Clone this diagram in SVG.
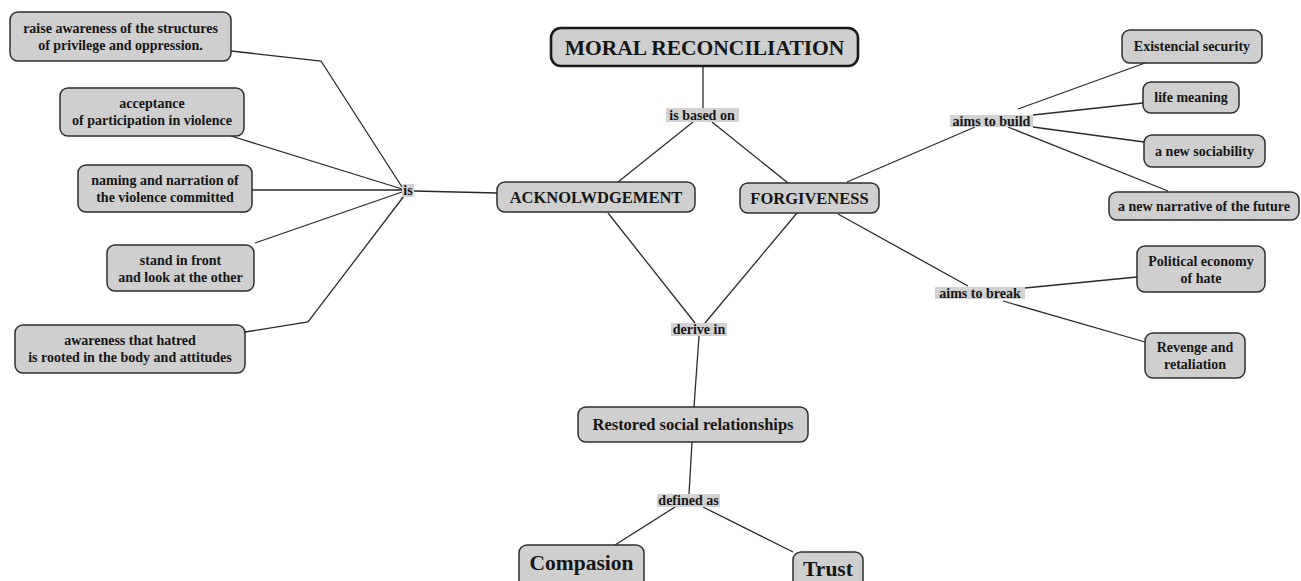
<svg xmlns="http://www.w3.org/2000/svg" width="1301" height="581" viewBox="0 0 1301 581">
  <style>
    .box { fill: #cfcfcf; stroke: #2e2e2e; stroke-width: 1.5; }
    .main { fill: #cfcfcf; stroke: #1a1a1a; stroke-width: 2.6; }
    .lbl { fill: #d2d2d2; }
    text { font-family: "Liberation Serif", "Times New Roman", serif; font-weight: bold; fill: #151515; text-anchor: middle; dominant-baseline: central; }
    .t14 { font-size: 14px; }
    .t16 { font-size: 16.5px; }
    .t21 { font-size: 21.5px; }
    .links path, .links line { fill: none; stroke: #2a2a2a; stroke-width: 1.3; }
  </style>

  <!-- connectors -->
  <g class="links">
    <line x1="703" y1="66" x2="703" y2="108"/>
    <line x1="693" y1="122" x2="618" y2="182"/>
    <line x1="712" y1="122" x2="788" y2="183"/>
    <line x1="414" y1="191" x2="497" y2="193"/>
    <path d="M231 51 L321 61 L402 187"/>
    <line x1="231" y1="136" x2="402" y2="189"/>
    <line x1="252" y1="190" x2="402" y2="190"/>
    <line x1="255" y1="243" x2="402" y2="192"/>
    <path d="M245 332 L308 322 L404 196"/>
    <line x1="608" y1="213" x2="695" y2="323"/>
    <line x1="797" y1="213" x2="705" y2="323"/>
    <line x1="699" y1="336" x2="694" y2="407"/>
    <line x1="692" y1="442" x2="689" y2="494"/>
    <line x1="675" y1="507" x2="615" y2="545"/>
    <line x1="703" y1="507" x2="793" y2="552"/>
    <line x1="847" y1="182" x2="975" y2="127"/>
    <line x1="1018" y1="109" x2="1145" y2="63"/>
    <line x1="1033" y1="115" x2="1143" y2="103"/>
    <line x1="1033" y1="127" x2="1144" y2="142"/>
    <line x1="1008" y1="127" x2="1168" y2="191"/>
    <line x1="838" y1="214" x2="968" y2="286"/>
    <line x1="1025" y1="288" x2="1137" y2="277"/>
    <line x1="1003" y1="301" x2="1145" y2="342"/>
  </g>

  <!-- link labels -->
  <g id="lbl-based">
    <rect class="lbl" x="666" y="108" width="73" height="14"/>
    <text class="t14" x="702" y="115">is based on</text>
  </g>
  <g id="lbl-is">
    <rect class="lbl" x="402" y="184" width="12" height="13"/>
    <text class="t14" x="408" y="190">is</text>
  </g>
  <g id="lbl-derive">
    <rect class="lbl" x="671" y="323" width="56" height="13"/>
    <text class="t14" x="699" y="329.5">derive in</text>
  </g>
  <g id="lbl-defined">
    <rect class="lbl" x="657" y="494" width="63" height="13"/>
    <text class="t14" x="688.5" y="500.5">defined as</text>
  </g>
  <g id="lbl-build">
    <rect class="lbl" x="950" y="115" width="83" height="12"/>
    <text class="t14" x="991.5" y="121">aims to build</text>
  </g>
  <g id="lbl-break">
    <rect class="lbl" x="935" y="287" width="90" height="12"/>
    <text class="t14" x="980" y="293">aims to break</text>
  </g>

  <!-- central concept -->
  <g id="moral-reconciliation">
    <rect class="main" x="551" y="28" width="307" height="38" rx="10"/>
    <text class="t21" x="704.5" y="47.5">MORAL RECONCILIATION</text>
  </g>
  <g id="acknowledgement">
    <rect class="box" x="497" y="182" width="198" height="30" rx="8"/>
    <text class="t16" x="596" y="197.5">ACKNOLWDGEMENT</text>
  </g>
  <g id="forgiveness">
    <rect class="box" x="740" y="183" width="139" height="30" rx="8"/>
    <text class="t16" x="809.5" y="198.5">FORGIVENESS</text>
  </g>
  <g id="restored">
    <rect class="box" x="578" y="407" width="230" height="35" rx="8"/>
    <text class="t16" x="693" y="424.5">Restored social relationships</text>
  </g>
  <g id="compasion">
    <rect class="box" x="519" y="545" width="125" height="50" rx="8"/>
    <text class="t21" x="581.5" y="563">Compasion</text>
  </g>
  <g id="trust">
    <rect class="box" x="793" y="552" width="70" height="45" rx="8"/>
    <text class="t21" x="828" y="569">Trust</text>
  </g>

  <!-- acknowledgement branches -->
  <g id="raise-awareness">
    <rect class="box" x="10" y="12" width="221" height="49" rx="8"/>
    <text class="t14" x="120.5" y="28">raise awareness of the structures</text>
    <text class="t14" x="120.5" y="45">of privilege and oppression.</text>
  </g>
  <g id="acceptance">
    <rect class="box" x="60" y="88" width="184" height="48" rx="8"/>
    <text class="t14" x="152" y="103.5">acceptance</text>
    <text class="t14" x="152" y="120.5">of participation in violence</text>
  </g>
  <g id="naming">
    <rect class="box" x="78" y="165" width="174" height="47" rx="8"/>
    <text class="t14" x="165" y="180.5">naming and narration of</text>
    <text class="t14" x="165" y="197.5">the violence committed</text>
  </g>
  <g id="stand-in-front">
    <rect class="box" x="107" y="245" width="147" height="46" rx="8"/>
    <text class="t14" x="180.5" y="260">stand in front</text>
    <text class="t14" x="180.5" y="277">and look at the other</text>
  </g>
  <g id="hatred-awareness">
    <rect class="box" x="15" y="325" width="230" height="48" rx="8"/>
    <text class="t14" x="130" y="340.5">awareness that hatred</text>
    <text class="t14" x="130" y="357.5">is rooted in the body and attitudes</text>
  </g>

  <!-- forgiveness branches -->
  <g id="existencial-security">
    <rect class="box" x="1122" y="30" width="140" height="33" rx="8"/>
    <text class="t14" x="1192" y="46.5">Existencial security</text>
  </g>
  <g id="life-meaning">
    <rect class="box" x="1143" y="82" width="96" height="31" rx="8"/>
    <text class="t14" x="1191" y="97.5">life meaning</text>
  </g>
  <g id="new-sociability">
    <rect class="box" x="1144" y="135" width="121" height="32" rx="8"/>
    <text class="t14" x="1204.5" y="151">a new sociability</text>
  </g>
  <g id="new-narrative">
    <rect class="box" x="1109" y="192" width="190" height="28" rx="8"/>
    <text class="t14" x="1204" y="206">a new narrative of the future</text>
  </g>
  <g id="political-economy">
    <rect class="box" x="1137" y="246" width="128" height="46" rx="8"/>
    <text class="t14" x="1201" y="261.5">Political economy</text>
    <text class="t14" x="1201" y="278">of hate</text>
  </g>
  <g id="revenge">
    <rect class="box" x="1145" y="333" width="100" height="45" rx="8"/>
    <text class="t14" x="1195" y="347.5">Revenge and</text>
    <text class="t14" x="1195" y="364.5">retaliation</text>
  </g>
</svg>
